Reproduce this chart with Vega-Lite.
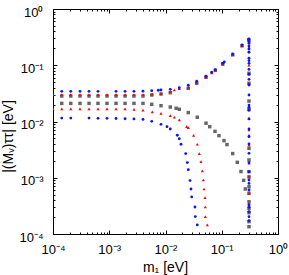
{
  "$schema": "https://vega.github.io/schema/vega-lite/v6.json",
  "width": 225,
  "height": 225,
  "autosize": {"type": "none"},
  "padding": {"left": 53, "top": 9, "right": 11, "bottom": 41},
  "config": {
    "font": "Liberation Sans",
    "view": {"stroke": "black", "strokeWidth": 1},
    "axis": {
      "domainColor": "black", "tickColor": "black", "labelColor": "black", "titleColor": "black",
      "labelFontSize": 13, "titleFontSize": 14, "titleFontWeight": "normal",
      "grid": false, "labelOverlap": false, "labelFlush": false, "labelBound": false
    }
  },
  "data": {"values": [
    {"m":0.000143,"v":0.0284,"s":"gray"},{"m":0.000207,"v":0.0284,"s":"gray"},{"m":0.000302,"v":0.0284,"s":"gray"},{"m":0.000437,"v":0.0284,"s":"gray"},{"m":0.000631,"v":0.0284,"s":"gray"},{"m":0.000912,"v":0.0284,"s":"gray"},{"m":0.00132,"v":0.0284,"s":"gray"},{"m":0.00191,"v":0.0284,"s":"gray"},{"m":0.00275,"v":0.0284,"s":"gray"},{"m":0.00398,"v":0.0284,"s":"gray"},
    {"m":0.00569,"v":0.0296,"s":"gray"},{"m":0.00832,"v":0.0308,"s":"gray"},{"m":0.01216,"v":0.0325,"s":"gray"},{"m":0.02541,"v":0.0389,"s":"gray"},{"m":0.03589,"v":0.0479,"s":"gray"},{"m":0.05248,"v":0.061,"s":"gray"},{"m":0.07674,"v":0.0813,"s":"gray"},{"m":0.104,"v":0.1047,"s":"gray"},{"m":0.1567,"v":0.1531,"s":"gray"},{"m":0.2291,"v":0.2213,"s":"gray"},{"m":0.302,"v":0.2818,"s":"gray"},
    {"m":0.000143,"v":0.021,"s":"gray"},{"m":0.000207,"v":0.021,"s":"gray"},{"m":0.000302,"v":0.021,"s":"gray"},{"m":0.000437,"v":0.021,"s":"gray"},{"m":0.000631,"v":0.021,"s":"gray"},{"m":0.000912,"v":0.021,"s":"gray"},{"m":0.00132,"v":0.021,"s":"gray"},{"m":0.00191,"v":0.021,"s":"gray"},{"m":0.00275,"v":0.021,"s":"gray"},{"m":0.00398,"v":0.021,"s":"gray"},
    {"m":0.00569,"v":0.0202,"s":"gray"},{"m":0.00832,"v":0.0191,"s":"gray"},{"m":0.01216,"v":0.0181,"s":"gray"},{"m":0.01549,"v":0.0172,"s":"gray"},{"m":0.01758,"v":0.0165,"s":"gray"},{"m":0.02541,"v":0.0144,"s":"gray"},{"m":0.03673,"v":0.0119,"s":"gray"},{"m":0.05248,"v":0.00933,"s":"gray"},{"m":0.06109,"v":0.00809,"s":"gray"},{"m":0.07586,"v":0.00668,"s":"gray"},{"m":0.08933,"v":0.0056,"s":"gray"},{"m":0.1096,"v":0.00457,"s":"gray"},{"m":0.1239,"v":0.00389,"s":"gray"},{"m":0.1567,"v":0.00269,"s":"gray"},{"m":0.1888,"v":0.00188,"s":"gray"},{"m":0.2198,"v":0.00129,"s":"gray"},{"m":0.2455,"v":0.0009,"s":"gray"},{"m":0.2618,"v":0.000631,"s":"gray"},
    {"m":0.305,"v":0.0719,"s":"gray"},{"m":0.305,"v":0.0478,"s":"gray"},{"m":0.305,"v":0.0231,"s":"gray"},{"m":0.305,"v":0.0165,"s":"gray"},{"m":0.305,"v":0.00333,"s":"gray"},{"m":0.305,"v":0.00207,"s":"gray"},{"m":0.305,"v":0.00128,"s":"gray"},{"m":0.305,"v":0.00104,"s":"gray"},{"m":0.305,"v":0.000693,"s":"gray"},{"m":0.305,"v":0.00053,"s":"gray"},{"m":0.305,"v":0.000375,"s":"gray"},{"m":0.305,"v":0.000286,"s":"gray"},{"m":0.305,"v":0.000239,"s":"gray"},{"m":0.305,"v":0.000166,"s":"gray"},{"m":0.305,"v":0.000135,"s":"gray"},
    {"m":0.0001,"v":0.03,"s":"red"},{"m":0.0001,"v":0.0167,"s":"red"},
    {"m":0.000143,"v":0.03,"s":"red"},{"m":0.000207,"v":0.03,"s":"red"},{"m":0.000302,"v":0.03,"s":"red"},{"m":0.000437,"v":0.03,"s":"red"},{"m":0.000631,"v":0.03,"s":"red"},{"m":0.000912,"v":0.03,"s":"red"},{"m":0.00132,"v":0.03,"s":"red"},{"m":0.00191,"v":0.03,"s":"red"},{"m":0.00275,"v":0.03,"s":"red"},{"m":0.00398,"v":0.03,"s":"red"},
    {"m":0.00582,"v":0.0308,"s":"red"},{"m":0.00832,"v":0.0317,"s":"red"},{"m":0.01216,"v":0.0339,"s":"red"},{"m":0.01436,"v":0.0363,"s":"red"},{"m":0.01758,"v":0.0383,"s":"red"},{"m":0.02541,"v":0.0406,"s":"red"},{"m":0.03589,"v":0.049,"s":"red"},{"m":0.05248,"v":0.0617,"s":"red"},{"m":0.06622,"v":0.0733,"s":"red"},{"m":0.07674,"v":0.0822,"s":"red"},{"m":0.104,"v":0.1059,"s":"red"},{"m":0.1567,"v":0.1549,"s":"red"},{"m":0.2291,"v":0.2239,"s":"red"},{"m":0.302,"v":0.2851,"s":"red"},
    {"m":0.000143,"v":0.0167,"s":"red"},{"m":0.000207,"v":0.0167,"s":"red"},{"m":0.000302,"v":0.0167,"s":"red"},{"m":0.000437,"v":0.0167,"s":"red"},{"m":0.000631,"v":0.0167,"s":"red"},{"m":0.000912,"v":0.0167,"s":"red"},{"m":0.00132,"v":0.0167,"s":"red"},{"m":0.00191,"v":0.0167,"s":"red"},{"m":0.00275,"v":0.0165,"s":"red"},{"m":0.00398,"v":0.016,"s":"red"},
    {"m":0.00582,"v":0.0149,"s":"red"},{"m":0.00832,"v":0.014,"s":"red"},{"m":0.01216,"v":0.0127,"s":"red"},{"m":0.01436,"v":0.0119,"s":"red"},{"m":0.01758,"v":0.01064,"s":"red"},{"m":0.02382,"v":0.00809,"s":"red"},{"m":0.02541,"v":0.00776,"s":"red"},{"m":0.03162,"v":0.00569,"s":"red"},{"m":0.03673,"v":0.00394,"s":"red"},{"m":0.03981,"v":0.00268,"s":"red"},{"m":0.04276,"v":0.00193,"s":"red"},{"m":0.04508,"v":0.00132,"s":"red"},{"m":0.04699,"v":0.000912,"s":"red"},{"m":0.04831,"v":0.000631,"s":"red"},{"m":0.05035,"v":0.000443,"s":"red"},{"m":0.051,"v":0.000302,"s":"red"},{"m":0.0511,"v":0.000204,"s":"red"},{"m":0.05534,"v":0.000145,"s":"red"},
    {"m":0.305,"v":0.28,"s":"red"},{"m":0.305,"v":0.262,"s":"red"},{"m":0.305,"v":0.21,"s":"red"},{"m":0.305,"v":0.174,"s":"red"},{"m":0.305,"v":0.101,"s":"red"},{"m":0.305,"v":0.0698,"s":"red"},{"m":0.305,"v":0.0478,"s":"red"},{"m":0.305,"v":0.016,"s":"red"},{"m":0.305,"v":0.0114,"s":"red"},{"m":0.305,"v":0.00706,"s":"red"},{"m":0.305,"v":0.00575,"s":"red"},{"m":0.305,"v":0.00382,"s":"red"},{"m":0.305,"v":0.00181,"s":"red"},{"m":0.305,"v":0.00104,"s":"red"},{"m":0.305,"v":0.00053,"s":"red"},{"m":0.305,"v":0.000352,"s":"red"},{"m":0.305,"v":0.00025,"s":"red"},
    {"m":0.000143,"v":0.0344,"s":"blue"},{"m":0.000207,"v":0.0344,"s":"blue"},{"m":0.000302,"v":0.0344,"s":"blue"},{"m":0.000437,"v":0.0344,"s":"blue"},{"m":0.000631,"v":0.0344,"s":"blue"},{"m":0.00132,"v":0.0344,"s":"blue"},{"m":0.00191,"v":0.0344,"s":"blue"},{"m":0.00275,"v":0.0344,"s":"blue"},{"m":0.00398,"v":0.0346,"s":"blue"},
    {"m":0.00569,"v":0.0353,"s":"blue"},{"m":0.00745,"v":0.0359,"s":"blue"},{"m":0.00832,"v":0.0363,"s":"blue"},{"m":0.01216,"v":0.0373,"s":"blue"},{"m":0.01758,"v":0.0398,"s":"blue"},{"m":0.02541,"v":0.0441,"s":"blue"},{"m":0.03589,"v":0.0519,"s":"blue"},{"m":0.05248,"v":0.0637,"s":"blue"},{"m":0.06622,"v":0.075,"s":"blue"},{"m":0.07674,"v":0.0834,"s":"blue"},{"m":0.104,"v":0.1081,"s":"blue"},{"m":0.1109,"v":0.1143,"s":"blue"},{"m":0.1567,"v":0.1585,"s":"blue"},{"m":0.2291,"v":0.2291,"s":"blue"},{"m":0.302,"v":0.289,"s":"blue"},
    {"m":0.000143,"v":0.0115,"s":"blue"},{"m":0.000207,"v":0.0115,"s":"blue"},{"m":0.000437,"v":0.0115,"s":"blue"},{"m":0.000631,"v":0.0114,"s":"blue"},{"m":0.000912,"v":0.0114,"s":"blue"},{"m":0.00132,"v":0.0113,"s":"blue"},{"m":0.00191,"v":0.0112,"s":"blue"},{"m":0.00275,"v":0.0111,"s":"blue"},{"m":0.00398,"v":0.0109,"s":"blue"},
    {"m":0.00569,"v":0.01007,"s":"blue"},{"m":0.00832,"v":0.00891,"s":"blue"},{"m":0.01064,"v":0.00809,"s":"blue"},{"m":0.01216,"v":0.00736,"s":"blue"},{"m":0.01622,"v":0.00569,"s":"blue"},{"m":0.01758,"v":0.00494,"s":"blue"},{"m":0.01888,"v":0.00394,"s":"blue"},{"m":0.02286,"v":0.00269,"s":"blue"},{"m":0.02443,"v":0.00186,"s":"blue"},{"m":0.02541,"v":0.00139,"s":"blue"},{"m":0.02729,"v":0.000891,"s":"blue"},{"m":0.02838,"v":0.000631,"s":"blue"},{"m":0.02924,"v":0.000457,"s":"blue"},{"m":0.03342,"v":0.000302,"s":"blue"},{"m":0.03388,"v":0.000204,"s":"blue"},{"m":0.03673,"v":0.000145,"s":"blue"},
    {"m":0.305,"v":0.293,"s":"blue"},{"m":0.305,"v":0.27,"s":"blue"},{"m":0.305,"v":0.2455,"s":"blue"},{"m":0.305,"v":0.2198,"s":"blue"},{"m":0.305,"v":0.1945,"s":"blue"},{"m":0.305,"v":0.17,"s":"blue"},{"m":0.305,"v":0.133,"s":"blue"},{"m":0.305,"v":0.1205,"s":"blue"},{"m":0.305,"v":0.1081,"s":"blue"},{"m":0.305,"v":0.0847,"s":"blue"},{"m":0.305,"v":0.0692,"s":"blue"},{"m":0.305,"v":0.0562,"s":"blue"},{"m":0.305,"v":0.0446,"s":"blue"},{"m":0.305,"v":0.0296,"s":"blue"},{"m":0.305,"v":0.0196,"s":"blue"},{"m":0.305,"v":0.0179,"s":"blue"},{"m":0.305,"v":0.016,"s":"blue"},{"m":0.305,"v":0.0111,"s":"blue"},{"m":0.305,"v":0.00736,"s":"blue"},{"m":0.305,"v":0.00537,"s":"blue"},{"m":0.305,"v":0.00398,"s":"blue"},{"m":0.305,"v":0.00272,"s":"blue"},{"m":0.305,"v":0.00185,"s":"blue"},{"m":0.305,"v":0.00128,"s":"blue"},{"m":0.305,"v":0.000912,"s":"blue"},{"m":0.305,"v":0.000794,"s":"blue"},{"m":0.305,"v":0.000605,"s":"blue"},{"m":0.305,"v":0.000328,"s":"blue"},{"m":0.305,"v":0.000299,"s":"blue"},{"m":0.305,"v":0.00025,"s":"blue"},{"m":0.305,"v":0.000203,"s":"blue"},{"m":0.305,"v":0.000173,"s":"blue"}
  ]},
  "layer": [
    {
      "mark": {"type": "point", "filled": true, "clip": true, "opacity": 1},
      "encoding": {
        "x": {"field": "m", "type": "quantitative",
          "scale": {"type": "log", "domain": [0.0001, 1], "nice": false},
          "axis": {"orient": "bottom", "title": "m₁  [eV]", "titleX": 112, "titleY": 37, "titleBaseline": "alphabetic",
            "values": [0.0001,0.0002,0.0003,0.0004,0.0005,0.0006,0.0007,0.0008,0.0009,0.001,0.002,0.003,0.004,0.005,0.006,0.007,0.008,0.009,0.01,0.02,0.03,0.04,0.05,0.06,0.07,0.08,0.09,0.1,0.2,0.3,0.4,0.5,0.6,0.7,0.8,0.9,1],
            "labelExpr": "abs(log(datum.value)/LN10 - round(log(datum.value)/LN10)) > 0.01 ? '' : ['10⁻⁴','10⁻³','10⁻²','10⁻¹','10⁰'][round(log(datum.value)/LN10)+4]",
            "tickSize": {"condition": {"test": "abs(log(datum.value)/LN10 - round(log(datum.value)/LN10)) < 0.01", "value": -4}, "value": -2},
            "labelPadding": 13}},
        "y": {"field": "v", "type": "quantitative",
          "scale": {"type": "log", "domain": [0.0001, 1], "nice": false},
          "axis": {"orient": "left", "title": "|(Mᵥ)ττ|  [eV]", "titleX": -45, "titleY": 127, "titleBaseline": "middle", "titleAlign": "center", "titleAngle": -90,
            "values": [0.0001,0.0002,0.0003,0.0004,0.0005,0.0006,0.0007,0.0008,0.0009,0.001,0.002,0.003,0.004,0.005,0.006,0.007,0.008,0.009,0.01,0.02,0.03,0.04,0.05,0.06,0.07,0.08,0.09,0.1,0.2,0.3,0.4,0.5,0.6,0.7,0.8,0.9,1],
            "labelExpr": "abs(log(datum.value)/LN10 - round(log(datum.value)/LN10)) > 0.01 ? '' : ['10⁻⁴','10⁻³','10⁻²','10⁻¹','10⁰'][round(log(datum.value)/LN10)+4]",
            "tickSize": {"condition": {"test": "abs(log(datum.value)/LN10 - round(log(datum.value)/LN10)) < 0.01", "value": -4}, "value": -2},
            "labelPadding": 14, "labelOffset": 3}},
        "color": {"field": "s", "type": "nominal", "legend": null,
          "scale": {"domain": ["gray", "red", "blue"], "range": ["#666666", "#ff0000", "#0a14ff"]}},
        "shape": {"field": "s", "type": "nominal", "legend": null,
          "scale": {"domain": ["gray", "red", "blue"], "range": ["square", "triangle-up", "circle"]}},
        "size": {"field": "s", "type": "nominal", "legend": null,
          "scale": {"domain": ["gray", "red", "blue"], "range": [12, 8, 17]}}
      }
    },
    {
      "mark": {"type": "point", "opacity": 0},
      "encoding": {
        "x": {"field": "m", "type": "quantitative",
          "scale": {"type": "log", "domain": [0.0001, 1], "nice": false},
          "axis": {"orient": "top", "title": null, "labels": false,
            "values": [0.0001,0.0002,0.0003,0.0004,0.0005,0.0006,0.0007,0.0008,0.0009,0.001,0.002,0.003,0.004,0.005,0.006,0.007,0.008,0.009,0.01,0.02,0.03,0.04,0.05,0.06,0.07,0.08,0.09,0.1,0.2,0.3,0.4,0.5,0.6,0.7,0.8,0.9,1],
            "tickSize": {"condition": {"test": "abs(log(datum.value)/LN10 - round(log(datum.value)/LN10)) < 0.01", "value": -4}, "value": -2}}},
        "y": {"field": "v", "type": "quantitative",
          "scale": {"type": "log", "domain": [0.0001, 1], "nice": false},
          "axis": {"orient": "right", "title": null, "labels": false,
            "values": [0.0001,0.0002,0.0003,0.0004,0.0005,0.0006,0.0007,0.0008,0.0009,0.001,0.002,0.003,0.004,0.005,0.006,0.007,0.008,0.009,0.01,0.02,0.03,0.04,0.05,0.06,0.07,0.08,0.09,0.1,0.2,0.3,0.4,0.5,0.6,0.7,0.8,0.9,1],
            "tickSize": {"condition": {"test": "abs(log(datum.value)/LN10 - round(log(datum.value)/LN10)) < 0.01", "value": -4}, "value": -2}}}
      }
    }
  ],
  "resolve": {"axis": {"x": "independent", "y": "independent"}}
}
